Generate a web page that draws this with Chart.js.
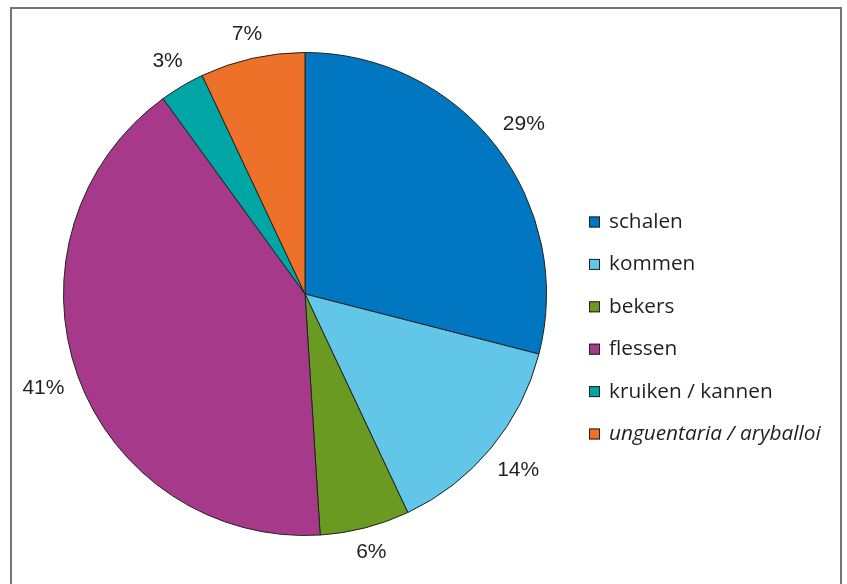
<!DOCTYPE html>
<html><head><meta charset="utf-8">
<script src="https://cdn.jsdelivr.net/npm/chart.js@4"></script>
<style>html,body{margin:0;padding:0;background:#fff;}#wrap{width:847px;height:584px;position:relative;}</style>
</head><body><div id="wrap"><canvas id="c" width="847" height="584"></canvas></div>
<script>
const categories = ['schalen','kommen','bekers','flessen','kruiken / kannen','unguentaria / aryballoi'];
const values = [29, 14, 6, 41, 3, 7];
const valueLabels = ['29%','14%','6%','41%','3%','7%'];
const colors = ['#0077C0','#62C6E9','#6A9A22','#A7398A','#00A5A5','#EE7129'];
const italicItems = [false,false,false,false,false,true];

const framePlugin = {
  id:'frame',
  beforeDraw(chart){
    const ctx = chart.ctx;
    ctx.save();
    ctx.fillStyle='#fff'; ctx.fillRect(0,0,chart.width,chart.height);
    ctx.strokeStyle='#747474'; ctx.lineWidth=2;
    ctx.beginPath();
    ctx.moveTo(11,chart.height+5); ctx.lineTo(11,8); ctx.lineTo(841,8); ctx.lineTo(841,chart.height+5);
    ctx.stroke();
    ctx.restore();
  }
};

const labelPlugin = {
  id:'outLabels',
  afterDatasetsDraw(chart){
    const ctx = chart.ctx;
    const meta = chart.getDatasetMeta(0);
    ctx.save();
    ctx.font = '21px "Liberation Sans", Arial, sans-serif';
    ctx.fillStyle = '#231f20';
    ctx.textAlign='center'; ctx.textBaseline='middle';
    meta.data.forEach((arc,i)=>{
      const p = arc.getProps(['x','y','startAngle','endAngle','outerRadius'],true);
      const mid = (p.startAngle+p.endAngle)/2;
      const dx = Math.cos(mid), dy = Math.sin(mid);
      const hw = ctx.measureText(valueLabels[i]).width/2, hh = 8;
      const D = p.outerRadius + 14;
      // find t so that the label box's nearest corner lies at distance D
      let lo = 0, hi = D + 100;
      for (let k=0;k<40;k++){
        const t = (lo+hi)/2;
        const cx = t*dx - Math.sign(dx)*hw, cy = t*dy - Math.sign(dy)*hh;
        if (Math.hypot(cx,cy) < D) lo = t; else hi = t;
      }
      const t = (lo+hi)/2;
      ctx.fillText(valueLabels[i], p.x + dx*t, p.y + dy*t);
    });
    // legend
    const x0 = 589, y0 = 222, step = 42.4;
    categories.forEach((c,i)=>{
      const y = y0 + i*step;
      ctx.fillStyle = colors[i];
      ctx.fillRect(x0, y-5.5, 11, 11);
      ctx.strokeStyle = '#222'; ctx.lineWidth=1;
      ctx.strokeRect(x0+0.5, y-5, 10, 10);
      ctx.fillStyle = '#231f20';
      ctx.textAlign='left';
      ctx.font = (italicItems[i]?'italic ':'') + '20.8px "Open Sans", sans-serif';
      ctx.fillText(c, 609, y);
    });
    ctx.restore();
  }
};

new Chart(document.getElementById('c'), {
  type:'pie',
  data:{ labels:categories, datasets:[{ data:values, backgroundColor:colors, borderColor:'#222', borderWidth:1, hoverOffset:0 }]},
  options:{
    responsive:false, animation:false,
    layout:{ padding:{ left:63, right:300, top:52, bottom:48 } },
    plugins:{ legend:{display:false}, tooltip:{enabled:false} }
  },
  plugins:[framePlugin,labelPlugin]
});
</script></body></html>
